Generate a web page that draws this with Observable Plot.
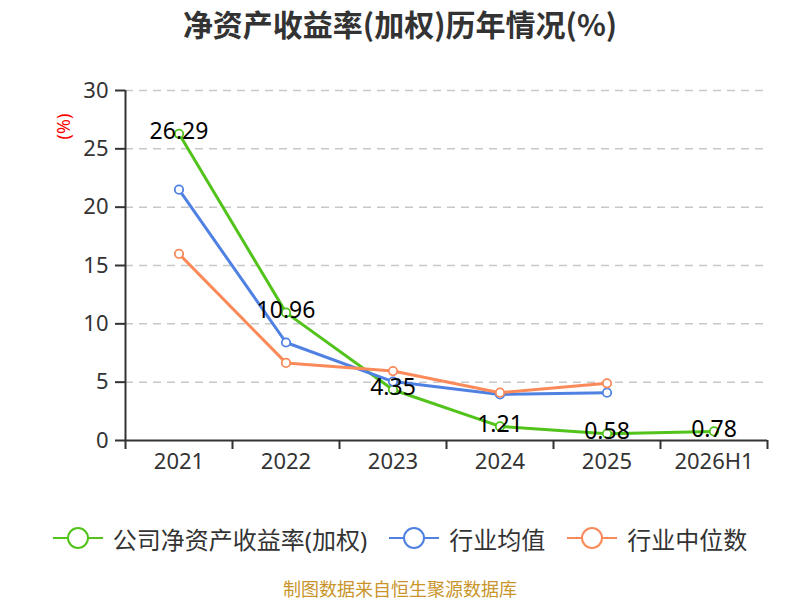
<!DOCTYPE html>
<html>
<head>
<meta charset="utf-8">
<script src="https://cdn.jsdelivr.net/npm/d3@7"></script>
<script src="https://cdn.jsdelivr.net/npm/@observablehq/plot@0.6"></script>
<style>
  body { margin: 0; background: #fff; font-family: "Noto Sans", "Noto Sans CJK SC", sans-serif; }
  #wrap { width: 800px; height: 600px; position: relative; }
  #title { height: 46px; line-height: 46px; text-align: center; font-size: 30px; font-weight: bold; color: #333; font-family: "Noto Sans CJK SC", sans-serif; }
  #legend { height: 44px; display: flex; justify-content: center; align-items: center; gap: 22px; font-size: 24px; color: #333; }
  .item { display: flex; align-items: center; gap: 10px; }
  #caption { position: absolute; top: 577px; width: 800px; height: 22px; text-align: center; line-height: 22px; font-size: 18px; color: #c9952b; font-family: "Noto Sans CJK SC", sans-serif; }
</style>
</head>
<body>
<div id="wrap">
  <div id="title">净资产收益率(加权)历年情况(%)</div>
  <div id="chart"></div>
  <div id="legend"></div>
  <div id="caption">制图数据来自恒生聚源数据库</div>
</div>
<script>
const years = ["2021", "2022", "2023", "2024", "2025", "2026H1"];
const companyROE = [26.29, 10.96, 4.35, 1.21, 0.58, 0.78];
const industryMean = [21.5, 8.4, 5.05, 3.95, 4.1];
const industryMedian = [16.0, 6.65, 5.95, 4.1, 4.9];
const yTicks = [0, 5, 10, 15, 20, 25, 30];

const seriesNames = ["公司净资产收益率(加权)", "行业均值", "行业中位数"];
const colors = ["#52c31b", "#4f81e3", "#fa8a5a"];
const seriesValues = [companyROE, industryMean, industryMedian];

const rows = [];
seriesValues.forEach((vals, s) => vals.forEach((v, i) => rows.push({ s, i, xi: i + 0.5, v, year: years[i] })));
const company = rows.filter(d => d.s === 0);

const font = '"Noto Sans", "Noto Sans CJK SC", sans-serif';

const chart = Plot.plot({
  width: 800,
  height: 470,
  marginTop: 44,
  marginBottom: 76,
  marginLeft: 125,
  marginRight: 33,
  style: { fontFamily: font, background: "#fff", overflow: "visible" },
  x: { domain: [0, years.length], axis: null },
  y: { domain: [0, 30], axis: null },
  marks: [
    Plot.gridY(yTicks.filter(t => t > 0), { stroke: "#c8c8c8", strokeOpacity: 1, strokeWidth: 1.5, strokeDasharray: "8,6" }),
    Plot.axisY({ ticks: yTicks, tickSize: 10, tickPadding: 7, fontSize: 22, color: "#333", stroke: "#333", strokeWidth: 2, label: null }),
    Plot.ruleX([0], { y1: 0, y2: 30, stroke: "#333", strokeWidth: 2 }),
    Plot.ruleY([0], { stroke: "#333", strokeWidth: 2 }),
    Plot.axisX({ ticks: d3.range(0, years.length + 1), tickSize: 9, tickFormat: () => "", stroke: "#333", strokeWidth: 2, label: null }),
    Plot.axisX({ ticks: years.map((_, i) => i + 0.5), tickSize: 0, tickPadding: 13, tickFormat: d => years[Math.round(d - 0.5)], fontSize: 22, color: "#333", label: null }),
    Plot.text(["(%)"], { frameAnchor: "top-left", textAnchor: "middle", lineAnchor: "middle", dx: -61, dy: 36, rotate: -90, fill: "#ff0000", fontSize: 18, text: d => d }),
    ...seriesValues.map((_, s) => Plot.line(rows.filter(d => d.s === s), { x: "xi", y: "v", stroke: colors[s], strokeWidth: 3 })),
    ...seriesValues.map((_, s) => Plot.dot(rows.filter(d => d.s === s), { x: "xi", y: "v", r: 4.2, fill: "#fff", stroke: colors[s], strokeWidth: 1.8 })),
    Plot.text(company, { x: "xi", y: "v", dy: -2, text: d => d.v.toFixed(2), fontSize: 23, fill: "#000" })
  ]
});
document.getElementById("chart").appendChild(chart);

const legend = document.getElementById("legend");
seriesNames.forEach((name, s) => {
  const item = document.createElement("div");
  item.className = "item";
  item.innerHTML = `<svg width="50" height="24"><line x1="0" y1="12" x2="50" y2="12" stroke="${colors[s]}" stroke-width="2"/><circle cx="25" cy="12" r="10" fill="#fff" stroke="${colors[s]}" stroke-width="2"/></svg><span>${name}</span>`;
  legend.appendChild(item);
});
</script>
</body>
</html>
